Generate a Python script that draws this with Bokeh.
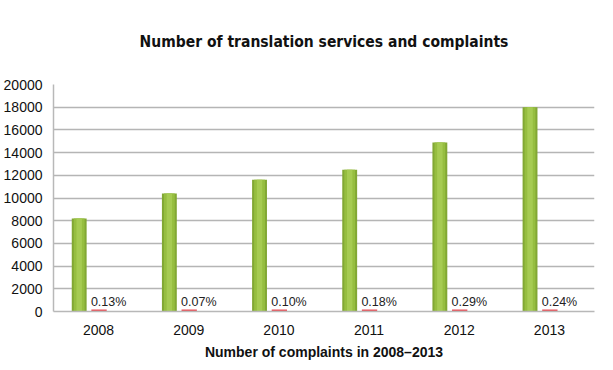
from bokeh.plotting import figure
from bokeh.models import FactorRange, FixedTicker, ColumnDataSource, Title, Range1d
from bokeh.transform import dodge
from bokeh.core.properties import value
from bokeh.embed import file_html
from bokeh.resources import INLINE

years = ["2008", "2009", "2010", "2011", "2012", "2013"]
services = [8200, 10400, 11600, 12500, 14900, 18000]
complaints = [180, 180, 180, 180, 180, 180]
percent_labels = ["0.13%", "0.07%", "0.10%", "0.18%", "0.29%", "0.24%"]
y_ticks = [0, 2000, 4000, 6000, 8000, 10000, 12000, 14000, 16000, 18000, 20000]

src = ColumnDataSource(dict(year=years, services=services, complaints=complaints, pct=percent_labels))

p = figure(x_range=FactorRange(*years, range_padding=0), y_range=Range1d(0, 20000),
           width=597, height=362, output_backend="svg", toolbar_location=None,
           min_border_left=44, min_border_right=3, min_border_top=76, min_border_bottom=20)
p.outline_line_color = None
p.background_fill_color = "white"
p.border_fill_color = "white"

t = Title(text="Number of translation services and complaints", align="center",
          text_font_size="15.5px", text_font_style="bold", vertical_align="top",
          text_font="'Liberation Sans Narrow', 'DejaVu Sans Condensed', sans-serif",
          text_color="#111111", standoff=64)
p.title = t

# green bars with simple shading
p.vbar(x=dodge("year", -0.215, range=p.x_range), top="services", width=0.165, source=src,
       fill_color="#82a834", line_color=None)
p.vbar(x=dodge("year", -0.215, range=p.x_range), top="services", width=0.12, source=src,
       fill_color="#96be40", line_color=None)
p.vbar(x=dodge("year", -0.215, range=p.x_range), top="services", width=0.06, source=src,
       fill_color="#a6cb52", line_color=None)

# complaints
p.vbar(x=dodge("year", 0.005, range=p.x_range), top="complaints", width=0.17, source=src,
       fill_color="#ec4c55", line_color=None)

p.text(x=dodge("year", -0.085, range=p.x_range), y="complaints", text="pct", source=src,
       text_align="left", text_baseline="alphabetic", y_offset=-7,
       text_font=value("Liberation Sans"), text_font_size="12.5px", text_color="#222222")

p.yaxis.ticker = FixedTicker(ticks=y_ticks)
p.yaxis.major_tick_line_color = None
p.yaxis.minor_tick_line_color = None
p.yaxis.major_label_standoff = 5
p.yaxis.major_label_text_font = "Liberation Sans"
p.yaxis.major_label_text_font_size = "14px"
p.yaxis.major_label_text_color = "#111111"
p.yaxis.axis_line_color = "#b8b8b8"
p.yaxis.axis_line_width = 1.5

p.xaxis.major_tick_line_color = None
p.xaxis.minor_tick_line_color = None
p.xaxis.major_label_standoff = 7
p.xaxis.major_label_text_font = "Liberation Sans"
p.xaxis.major_label_text_font_size = "14px"
p.xaxis.major_label_text_color = "#111111"
p.xaxis.axis_line_color = "#b8b8b8"
p.xaxis.axis_line_width = 1.5
p.xaxis.axis_label = "Number of complaints in 2008\u20132013"
p.xaxis.axis_label_text_font = "Liberation Sans"
p.xaxis.axis_label_text_font_size = "14px"
p.xaxis.axis_label_text_font_style = "bold"
p.xaxis.axis_label_text_color = "#111111"
p.xaxis.axis_label_standoff = 6

p.xgrid.grid_line_color = None
p.ygrid.grid_line_color = "#b5b5b5"
p.ygrid.grid_line_width = 1.5

open("out.html", "w").write(file_html(p, INLINE))
